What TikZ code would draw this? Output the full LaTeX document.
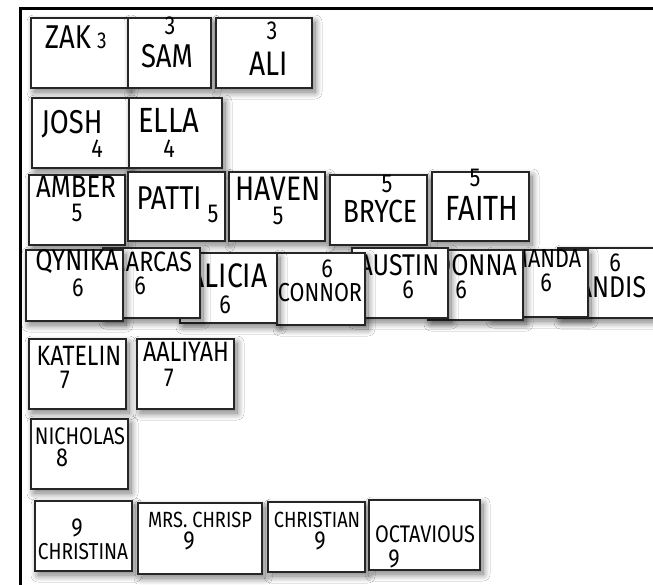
\documentclass[tikz,border=0pt]{standalone}
\usepackage{fontspec}
\setmainfont{Fira Sans}[FakeStretch=0.83]
\usetikzlibrary{shadows.blur}
\newcommand\hsz[1]{\fontsize{#1}{#1}\selectfont}
\tikzset{
  box/.style={draw=black!85, line width=1.3pt, fill=white, inner sep=0pt,
    blur shadow={shadow xshift=3pt, shadow yshift=-4pt, shadow blur radius=7pt, shadow blur steps=20, shadow opacity=55}},
  nm/.style={inner sep=0pt, text=black},
  num/.style={inner sep=0pt, text=black, font=\hsz{26}},
  frameline/.style={line width=3pt, black}
}
\newcommand\bx[5]{\node[box, minimum width={(#4)-(#2)}, minimum height={(#5)-(#3)}] (#1) at ({((#2)+(#4))/2},{((#3)+(#5))/2}) {};}
\begin{document}
\begin{tikzpicture}[x=1pt,y=-1pt]
\useasboundingbox (0,0) rectangle (653,584);
\fill[white] (0,0) rectangle (653,584);
\coordinate (fbl) at (20,586);
\coordinate (ftl) at (20,8);
\coordinate (ftr) at (655,8);
\draw[frameline] (fbl) -- (ftl) -- (ftr);

% row 3
\bx{zak}{31}{18}{128}{88}
\node[nm, font=\hsz{33}] (zakN) at (68,37) {ZAK};
\node[nm, font=\hsz{23}] (zakA) at (102,41) {3};
\bx{sam}{128}{18}{211}{88}
\node[num] (samA) at (170,26) {3};
\node[nm, font=\hsz{33}] (samN) at (167,56) {SAM};
\bx{ali}{216}{18}{312}{88}
\node[num] (aliA) at (272,31) {3};
\node[nm, font=\hsz{34}] (aliN) at (269,64) {ALI};

% row 4
\bx{josh}{32}{98}{129}{168}
\node[nm, font=\hsz{33}] (joshN) at (72,124) {JOSH};
\node[num] (joshA) at (97,149) {4};
\bx{ella}{129}{98}{222}{168}
\node[nm, font=\hsz{35}] (ellaN) at (169,120) {ELLA};
\node[num] (ellaA) at (169,149) {4};

% row 5
\bx{amber}{29}{175}{125}{245}
\node[nm, font=\hsz{31}] (amberN) at (76,187) {AMBER};
\node[num] (amberA) at (77,213) {5};
\bx{patti}{128}{172}{225}{241}
\node[nm, font=\hsz{33}] (pattiN) at (169,198) {PATTI};
\node[num] (pattiA) at (213,214) {5};
\bx{haven}{229}{172}{325}{241}
\node[nm, font=\hsz{34}] (havenN) at (278,189) {HAVEN};
\node[num] (havenA) at (278,216) {5};
\bx{bryce}{330}{175}{427}{245}
\node[num] (bryceA) at (387,184) {5};
\node[nm, font=\hsz{32}] (bryceN) at (380,211) {BRYCE};
\bx{faith}{432}{172}{529}{241}
\node[num] (faithA) at (475,178) {5};
\node[nm, font=\hsz{35}] (faithN) at (482,208) {FAITH};

% row 6 (drawn right to left for overlaps)
\bx{candis}{558}{248}{665}{318}
\node[num] (candisA) at (615,263) {6};
\node[nm, font=\hsz{30}] (candisN) at (605,287) {CANDIS};
\bx{amanda}{490}{250}{588}{317}
\node[nm, font=\hsz{26}] (amandaN) at (540,259) {AMANDA};
\node[num] (amandaA) at (546,283) {6};
\bx{donna}{428}{250}{523}{320}
\node[nm, font=\hsz{30}] (donnaN) at (476,265) {DONNA};
\node[num] (donnaA) at (461,290) {6};
\bx{austin}{352}{248}{448}{318}
\node[nm, font=\hsz{30}] (austinN) at (399,265) {AUSTIN};
\node[num] (austinA) at (408,290) {6};
\bx{connor}{277}{253}{365}{325}
\node[num] (connorA) at (327,269) {6};
\node[nm, font=\hsz{26}] (connorN) at (320,293) {CONNOR};
\bx{alicia}{180}{253}{277}{323}
\node[nm, font=\hsz{34}] (aliciaN) at (228,276) {ALICIA};
\node[num] (aliciaA) at (225,305) {6};
\bx{marcas}{103}{248}{200}{318}
\node[nm, font=\hsz{28}] (marcasN) at (150,262) {MARCAS};
\node[num] (marcasA) at (140,286) {6};
\bx{qynika}{26}{250}{123}{321}
\node[nm, font=\hsz{30}] (qynikaN) at (77,262) {QYNIKA};
\node[num] (qynikaA) at (78,288) {6};

% row 7
\bx{katelin}{29}{339}{126}{409}
\node[nm, font=\hsz{28}] (katelinN) at (79,356) {KATELIN};
\node[num] (katelinA) at (65,380) {7};
\bx{aaliyah}{137}{339}{234}{409}
\node[nm, font=\hsz{28}] (aaliyahN) at (186,352) {AALIYAH};
\node[num] (aaliyahA) at (169,378) {7};

% row 8
\bx{nicholas}{31}{419}{128}{489}
\node[nm, font=\hsz{24}] (nicholasN) at (80,436) {NICHOLAS};
\node[num] (nicholasA) at (62,458) {8};

% row 9
\bx{christina}{35}{501}{132}{571}
\node[num] (christinaA) at (77,528) {9};
\node[nm, font=\hsz{23}] (christinaN) at (83,552) {CHRISTINA};
\bx{chrisp}{138}{503}{262}{574}
\node[nm, font=\hsz{22}] (chrispN) at (200,520) {MRS. CHRISP};
\node[num] (chrispA) at (189,541) {9};
\bx{christian}{268}{502}{365}{572}
\node[nm, font=\hsz{22}] (christianN) at (317,520) {CHRISTIAN};
\node[num] (christianA) at (320,541) {9};
\bx{octavious}{369}{500}{480}{570}
\node[nm, font=\hsz{24}] (octaviousN) at (425,534) {OCTAVIOUS};
\node[num] (octaviousA) at (394,559) {9};
\end{tikzpicture}
\end{document}
